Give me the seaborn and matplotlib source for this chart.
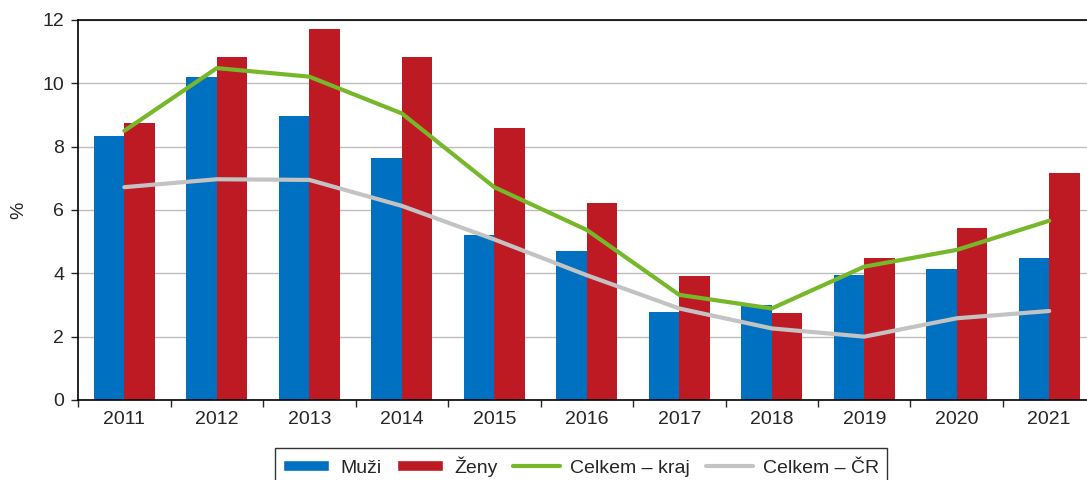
import numpy as np
import pandas as pd
import matplotlib
matplotlib.use("Agg")
import matplotlib.pyplot as plt
from matplotlib.patches import Patch
from matplotlib.lines import Line2D
import seaborn as sns

years = ["2011", "2012", "2013", "2014", "2015", "2016", "2017", "2018", "2019", "2020", "2021"]
muzi = [8.34, 10.21, 8.97, 7.64, 5.22, 4.69, 2.79, 3.0, 3.95, 4.15, 4.48]
zeny = [8.76, 10.82, 11.73, 10.82, 8.59, 6.21, 3.92, 2.74, 4.47, 5.42, 7.17]
celkem_kraj = [8.5, 10.48, 10.21, 9.05, 6.72, 5.37, 3.32, 2.89, 4.21, 4.74, 5.66]
celkem_cr = [6.72, 6.97, 6.95, 6.13, 5.07, 3.94, 2.89, 2.26, 2.0, 2.58, 2.81]

c_blue = "#0070C0"
c_red = "#BE1A24"
c_green = "#76B82A"
c_gray = "#C3C3C3"
fs = 14

sns.set_style("white")
plt.rcParams['font.family'] = ['Liberation Sans', 'DejaVu Sans']

bars = pd.DataFrame({
    "rok": years * 2,
    "hodnota": muzi + zeny,
    "pohlavi": ["Muži"] * len(years) + ["Ženy"] * len(years),
})
lines = pd.DataFrame({
    "pos": np.arange(len(years)),
    "kraj": celkem_kraj,
    "cr": celkem_cr,
})

fig = plt.figure(figsize=(10.87, 4.8), dpi=100)
ax = fig.add_axes([0.0718, 0.1667, 0.936, 0.7917])

sns.barplot(data=bars, x="rok", y="hodnota", hue="pohlavi",
            palette=[c_blue, c_red], width=0.66, gap=0, saturation=1,
            linewidth=0, legend=False, ax=ax, zorder=2)
sns.lineplot(data=lines, x="pos", y="cr", color=c_gray, linewidth=3, ax=ax, zorder=3)
sns.lineplot(data=lines, x="pos", y="kraj", color=c_green, linewidth=3, ax=ax, zorder=4)

ax.set_xlim(-0.5, len(years) - 0.5)
ax.set_ylim(0, 12)
ax.set_yticks(range(0, 13, 2))
ax.set_xticks(range(len(years)))
ax.set_xticklabels(years)
ax.set_xticks(np.arange(-0.5, len(years), 1), minor=True)
ax.tick_params(axis="x", which="major", length=0, pad=8, labelsize=fs)
ax.tick_params(axis="x", which="minor", length=5, width=1, direction="out", bottom=True)
ax.tick_params(axis="y", length=5, width=1, direction="out", left=True, pad=5, labelsize=fs)
ax.set_xlabel("")
ax.set_ylabel("%", fontsize=fs, labelpad=11)
ax.yaxis.grid(True, color="#BDBDBD", linewidth=1)
ax.set_axisbelow(True)
for s in ax.spines.values():
    s.set_color("black")
    s.set_linewidth(1.2)

handles = [
    Patch(facecolor=c_blue, label="Muži"),
    Patch(facecolor=c_red, label="Ženy"),
    Line2D([], [], color=c_green, linewidth=3, label="Celkem – kraj"),
    Line2D([], [], color=c_gray, linewidth=3, label="Celkem – ČR"),
]
leg = fig.legend(handles=handles, loc="upper center", bbox_to_anchor=(0.5345, 0.066),
                 ncol=4, frameon=True, fancybox=False, fontsize=fs,
                 handlelength=2.4, handleheight=0.5, columnspacing=0.8,
                 handletextpad=0.55, borderpad=0.4, borderaxespad=0)
leg.get_frame().set_edgecolor("black")
leg.get_frame().set_linewidth(1)

fig.savefig("out.png", dpi=100)
